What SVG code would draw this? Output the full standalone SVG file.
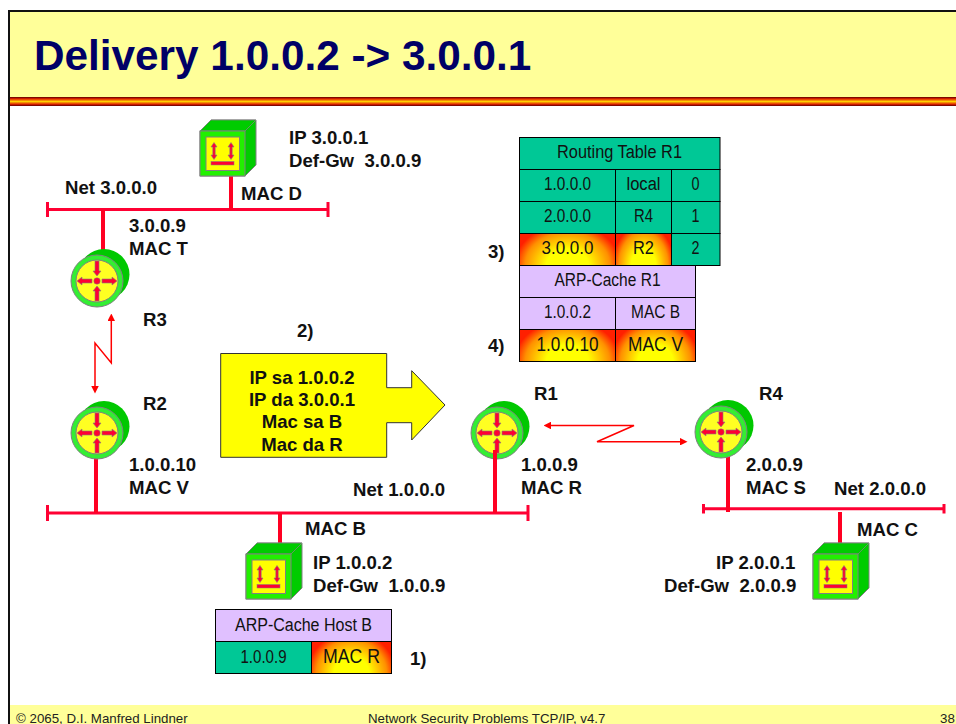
<svg xmlns="http://www.w3.org/2000/svg" width="956" height="724" viewBox="0 0 956 724">
<style>
text{font-family:"Liberation Sans",Arial,sans-serif;fill:#000}
.l{font-size:18.6px;font-weight:bold;fill:#111}
.t{font-size:18px;text-anchor:middle;fill:#111}
.b{font-size:20px}
.f{font-size:13.3px;fill:#222}
.c{fill:#00c896;stroke:#000;stroke-width:1}
.a{fill:#e0c0ff;stroke:#000;stroke-width:1}
.h{fill:url(#hot);stroke:#000;stroke-width:1}
.n{fill:none;stroke:#ff0033;stroke-width:3}
.s{fill:none;stroke:#ff0022;stroke-width:4}
.z{fill:none;stroke:#ff0000;stroke-width:1.5;marker-end:url(#ah);marker-start:url(#ah)}
.ga{fill:#ff0033;stroke:#808080;stroke-width:.6}
</style>
<defs>
<radialGradient id="hot" cx="0" cy="0" r="1" gradientTransform="translate(.5 1) scale(.55 1.3)">
<stop offset="0" stop-color="#ffff00"/><stop offset=".4" stop-color="#ffff00"/><stop offset=".8" stop-color="#ff9000"/><stop offset="1" stop-color="#ff2000"/>
</radialGradient>
<linearGradient id="stripe" x1="0" y1="0" x2="0" y2="1">
<stop offset="0" stop-color="#5a0000"/><stop offset=".2" stop-color="#e02000"/><stop offset=".5" stop-color="#ffd000"/><stop offset=".8" stop-color="#e02000"/><stop offset="1" stop-color="#5a0000"/>
</linearGradient>
<marker id="ah" viewBox="0 0 10 10" refX="0" refY="5" markerWidth="5" markerHeight="5" orient="auto-start-reverse"><path d="M0 0L10 5L0 10Z" fill="#ff0000"/></marker>
<g id="router">
<circle cx="7" cy="-6.500" r="25.500" fill="#00c800"/>
<circle cx="0" cy="0" r="26" fill="#33ee33" stroke="#808080"/>
<circle cx="0" cy="0" r="21" fill="#ffff22" stroke="#808080"/>
<path class="ga" d="M-5-2H-15V-4L-20 0L-15 4V2H-5Z"/>
<path class="ga" d="M5-2H15V-4L20 0L15 4V2H5Z"/>
<path class="ga" d="M-2-20V-10H-4L0-5L4-10H2V-20Z"/>
<path class="ga" d="M-2 20V10H-4L0 5L4 10H2V20Z"/>
<circle r="3.200" fill="#ff0033" stroke="#808080" stroke-width=".5"/>
</g>
<g id="host">
<path d="M0 0L11-11H56V34L45 45H0Z" fill="#00cc00" stroke="#808080" stroke-width="1"/>
<path d="M0 0L11-11H56L45 0Z" fill="#00cc00" stroke="#808080" stroke-width=".8"/>
<rect width="45" height="45" fill="#22f000" stroke="#808080"/>
<rect x="6" y="6" width="33.500" height="33.500" fill="#ffff00" stroke="#808080"/>
<path class="ga" d="M14 11.500L17 16H15.200V24H17L14 28.500L11 24H12.800V16H11Z"/>
<path class="ga" d="M31 11.500L34 16H32.200V24H34L31 28.500L28 24H29.800V16H28Z"/>
<rect x="11" y="30.500" width="23" height="3.500" fill="#ff0033" stroke="#808080" stroke-width=".5"/>
</g>
</defs>
<rect width="956" height="724" fill="#fff"/>
<g id="frame">
<rect x="9" y="11" width="947" height="86" fill="#ffff99"/>
<rect x="8" y="97" width="948" height="9" fill="url(#stripe)"/>
<rect x="9" y="705" width="947" height="19" fill="#ffff99"/>
<rect x="8" y="10" width="948" height="2" fill="#111"/>
<rect x="8" y="10" width="2" height="714" fill="#111"/>
<text x="34" y="70" style="font-size:42.300px;font-weight:bold;fill:#000066">Delivery 1.0.0.2 -&gt; 3.0.0.1</text>
<text x="16" y="722.500" class="f">© 2065, D.I. Manfred Lindner</text>
<text x="368" y="722.500" class="f">Network Security Problems TCP/IP, v4.7</text>
<text x="940" y="722.500" class="f">38</text>
</g>
<g id="connectors">
<path class="n" d="M47.500 209.500H328M47.500 202V217M328 202V217"/>
<path class="n" d="M47.500 513H528M47.500 505V521M528 505V521"/>
<path class="n" d="M703.500 508.700H944M703.500 504V513.500M944 504V513.500"/>
<path class="s" d="M231 176V210M103 210V256M96 458V513M495 513V460M280 513V544M728 457V512M840 512V544"/>
<path class="z" d="M111.300 321V363L95 343V386"/>
<path class="z" d="M551 425.500H634L597 441.700H680"/>
</g>
<g id="host-d"><use href="#host" x="200" y="131"/><text class="l" x="289" y="144">IP 3.0.0.1</text><text class="l" x="289" y="167" xml:space="preserve">Def-Gw  3.0.0.9</text><text class="l" x="241" y="200">MAC D</text></g>
<g id="net-3"><text class="l" x="65" y="194">Net 3.0.0.0</text></g>
<g id="r3"><use href="#router" x="97" y="281"/><text class="l" x="129" y="232">3.0.0.9</text><text class="l" x="129" y="255">MAC T</text><text class="l" x="143" y="326">R3</text></g>
<g id="r2"><use href="#router" x="97" y="433"/><text class="l" x="143" y="410">R2</text><text class="l" x="129" y="471">1.0.0.10</text><text class="l" x="129" y="494">MAC V</text></g>
<g id="r1"><use href="#router" x="497" y="433"/><text class="l" x="534" y="400">R1</text><text class="l" x="521" y="471">1.0.0.9</text><text class="l" x="521" y="494">MAC R</text></g>
<path class="s" d="M495 450V470"/>
<g id="r4"><use href="#router" x="721" y="432"/><text class="l" x="759" y="400">R4</text><text class="l" x="746" y="471">2.0.0.9</text><text class="l" x="746" y="494">MAC S</text></g>
<g id="net-1"><text class="l" x="353" y="496">Net 1.0.0.0</text></g>
<g id="net-2"><text class="l" x="834" y="495">Net 2.0.0.0</text></g>
<g id="host-b"><use href="#host" x="246" y="554"/><text class="l" x="305" y="535">MAC B</text><text class="l" x="313" y="569">IP 1.0.0.2</text><text class="l" x="313" y="592" xml:space="preserve">Def-Gw  1.0.0.9</text></g>
<g id="host-c"><use href="#host" x="813" y="554"/><text class="l" x="857" y="536">MAC C</text><text class="l" x="716" y="569">IP 2.0.0.1</text><text class="l" x="664" y="592" xml:space="preserve">Def-Gw  2.0.0.9</text></g>
<g id="packet">
<path d="M220.700 353.500H386.700V387.700H411.700V370.700L445 405L411.700 440V422.700H386.700V457.300H220.700Z" fill="#ffff00" stroke="#333" stroke-width="1"/>
<text class="l" x="302" y="384" text-anchor="middle">IP sa 1.0.0.2</text>
<text class="l" x="302" y="406" text-anchor="middle">IP da 3.0.0.1</text>
<text class="l" x="302" y="428" text-anchor="middle">Mac sa B</text>
<text class="l" x="302" y="451" text-anchor="middle">Mac da R</text>
<text class="l" x="297" y="337">2)</text>
</g>
<g id="routing-table">
<rect class="c" x="519.500" y="137.500" width="200.500" height="32"/>
<rect class="c" x="519.500" y="169.500" width="96" height="32"/><rect class="c" x="615.500" y="169.500" width="56" height="32"/><rect class="c" x="671.500" y="169.500" width="48.500" height="32"/>
<rect class="c" x="519.500" y="201.500" width="96" height="32"/><rect class="c" x="615.500" y="201.500" width="56" height="32"/><rect class="c" x="671.500" y="201.500" width="48.500" height="32"/>
<rect class="h" x="519.500" y="233.500" width="96" height="32"/><rect class="h" x="615.500" y="233.500" width="56" height="32"/><rect class="c" x="671.500" y="233.500" width="48.500" height="32"/>
<text class="t" x="619.500" y="158" textLength="125" lengthAdjust="spacingAndGlyphs">Routing Table R1</text>
<text class="t" x="567.500" y="190" textLength="47" lengthAdjust="spacingAndGlyphs">1.0.0.0</text><text class="t" x="643.500" y="190" textLength="34" lengthAdjust="spacingAndGlyphs">local</text><text class="t" x="695.500" y="190" textLength="8" lengthAdjust="spacingAndGlyphs">0</text>
<text class="t" x="567.500" y="222" textLength="47" lengthAdjust="spacingAndGlyphs">2.0.0.0</text><text class="t" x="643.500" y="222" textLength="19" lengthAdjust="spacingAndGlyphs">R4</text><text class="t" x="695.500" y="222" textLength="8" lengthAdjust="spacingAndGlyphs">1</text>
<text class="t" x="567.500" y="254" textLength="52" lengthAdjust="spacingAndGlyphs">3.0.0.0</text><text class="t" x="643.500" y="254" textLength="21" lengthAdjust="spacingAndGlyphs">R2</text><text class="t" x="695.500" y="254" textLength="8" lengthAdjust="spacingAndGlyphs">2</text>
<text class="l" x="488" y="258">3)</text>
</g>
<g id="arp-r1">
<rect class="a" x="519.500" y="265.500" width="176" height="32"/>
<rect class="a" x="519.500" y="297.500" width="96" height="32"/><rect class="a" x="615.500" y="297.500" width="80" height="32"/>
<rect class="h" x="519.500" y="329.500" width="96" height="32"/><rect class="h" x="615.500" y="329.500" width="80" height="32"/>
<text class="t" x="607.500" y="286" textLength="106" lengthAdjust="spacingAndGlyphs">ARP-Cache R1</text>
<text class="t" x="567.500" y="318" textLength="47" lengthAdjust="spacingAndGlyphs">1.0.0.2</text><text class="t" x="655.500" y="318" textLength="49" lengthAdjust="spacingAndGlyphs">MAC B</text>
<text class="t b" x="567.500" y="351" textLength="62" lengthAdjust="spacingAndGlyphs">1.0.0.10</text><text class="t b" x="655.500" y="351" textLength="55" lengthAdjust="spacingAndGlyphs">MAC V</text>
<text class="l" x="488" y="352">4)</text>
</g>
<g id="arp-b">
<rect class="a" x="215.500" y="609.500" width="176" height="32"/>
<rect class="c" x="215.500" y="641.500" width="96" height="32"/><rect class="h" x="311.500" y="641.500" width="80" height="32"/>
<text class="t" x="303.500" y="630.500" textLength="137" lengthAdjust="spacingAndGlyphs">ARP-Cache Host B</text>
<text class="t" x="263.500" y="662.500" textLength="46" lengthAdjust="spacingAndGlyphs">1.0.0.9</text><text class="t" x="351.500" y="663" style="font-size:21px" textLength="57" lengthAdjust="spacingAndGlyphs">MAC R</text>
<text class="l" x="410" y="665">1)</text>
</g>
</svg>
